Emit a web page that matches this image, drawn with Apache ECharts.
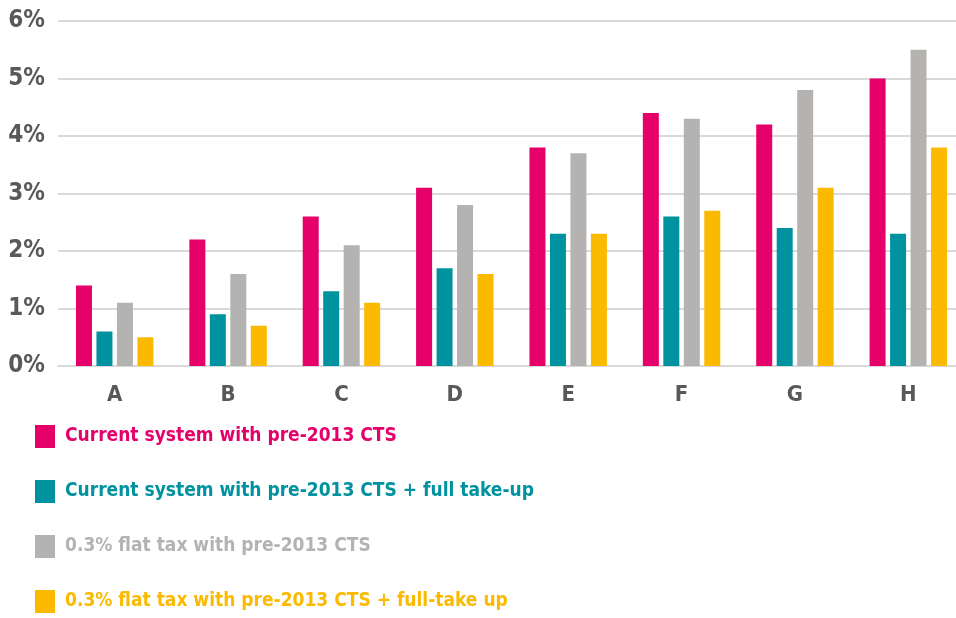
<!DOCTYPE html>
<html>
<head>
  <meta charset="utf-8">
  <script src="https://cdn.jsdelivr.net/npm/echarts@6/dist/echarts.min.js"></script>
  <style>
    html, body { margin: 0; padding: 0; background: #fff; overflow: hidden; }
    /* 原图右侧被裁切，画布稍宽于窗口 */
    #chart { width: 965px; height: 618px; }
  </style>
</head>
<body>
  <div id="chart"></div>
  <script>
    // 数据
    var categories = ['A', 'B', 'C', 'D', 'E', 'F', 'G', 'H'];
    var seriesNames = [
      'Current system with pre-2013 CTS',
      'Current system with pre-2013 CTS + full take-up',
      '0.3% flat tax with pre-2013 CTS',
      '0.3% flat tax with pre-2013 CTS + full-take up'
    ];
    var currentPre2013 = [1.4, 2.2, 2.6, 3.1, 3.8, 4.4, 4.2, 5.0];
    var currentFullTakeUp = [0.6, 0.9, 1.3, 1.7, 2.3, 2.6, 2.4, 2.3];
    var flatTaxPre2013 = [1.1, 1.6, 2.1, 2.8, 3.7, 4.3, 4.8, 5.5];
    var flatTaxFullTakeUp = [0.5, 0.7, 1.1, 1.6, 2.3, 2.7, 3.1, 3.8];
    var colors = ['#E5006A', '#00929F', '#B4B3B1', '#FBBA00'];

    var chart = echarts.init(document.getElementById('chart'));
    var font = '"DejaVu Sans Condensed", "DejaVu Sans", sans-serif';
    var allData = [currentPre2013, currentFullTakeUp, flatTaxPre2013, flatTaxFullTakeUp];

    var option = {
      animation: false,
      color: colors,
      grid: { left: 58, right: 0, top: 21, bottom: 252 },
      legend: {
        orient: 'vertical',
        left: 35,
        top: 425,
        height: 190,
        padding: 0,
        itemWidth: 20,
        itemHeight: 23,
        itemGap: 32,
        icon: 'rect',
        textStyle: { fontFamily: font, fontWeight: 'bold', fontSize: 19, padding: [0, 0, 0, 5] },
        data: seriesNames.map(function (n, i) {
          return { name: n, textStyle: { color: colors[i] } };
        })
      },
      xAxis: {
        type: 'category',
        data: categories,
        axisLine: { lineStyle: { color: '#D9D9D9', width: 2 } },
        axisTick: { show: false },
        axisLabel: { color: '#595959', fontFamily: font, fontWeight: 'bold', fontSize: 22, margin: 18 }
      },
      yAxis: {
        type: 'value',
        min: 0,
        max: 6,
        interval: 1,
        axisLabel: {
          color: '#595959', fontFamily: font, fontWeight: 'bold', fontSize: 24, margin: 13,
          formatter: '{value}%'
        },
        splitLine: { lineStyle: { color: '#D9D9D9', width: 2 } }
      },
      series: allData.map(function (d, i) {
        return {
          name: seriesNames[i],
          type: 'bar',
          data: d,
          barWidth: 16,
          barGap: '28%',
          itemStyle: { color: colors[i] }
        };
      })
    };

    chart.setOption(option);
  </script>
</body>
</html>
